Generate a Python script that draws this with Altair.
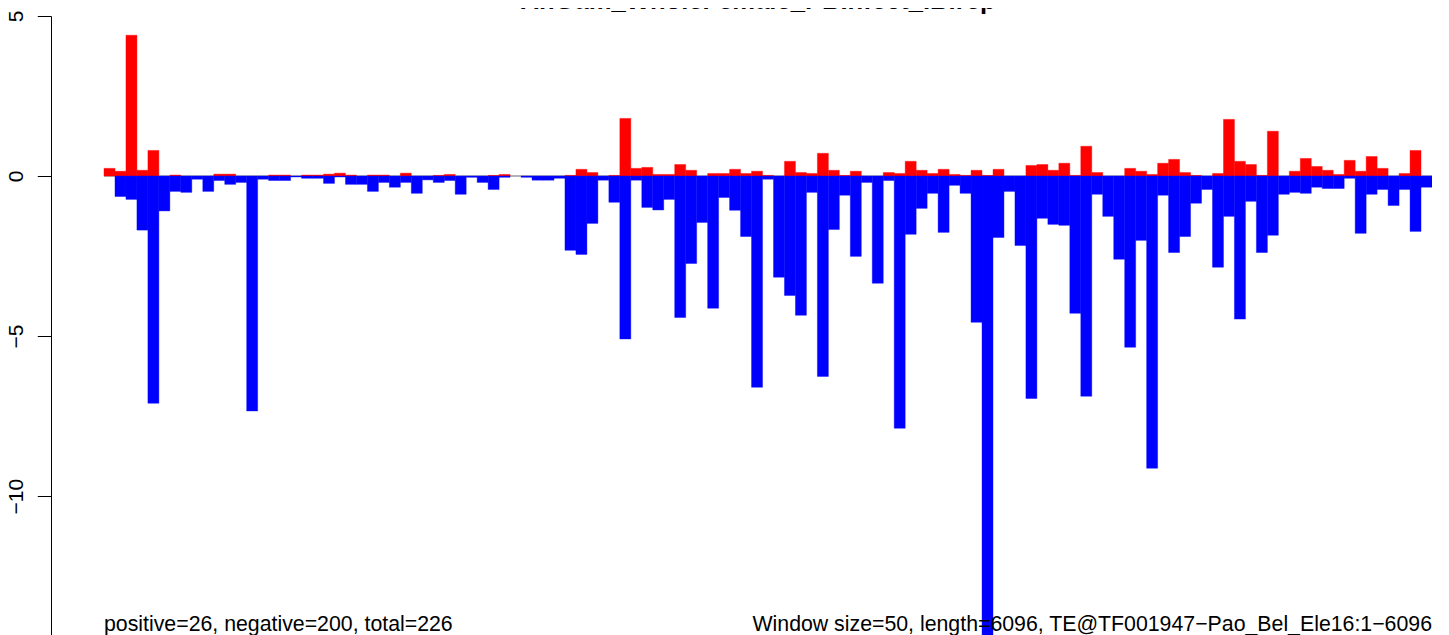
import altair as alt
import pandas as pd

title_text = "AnGam_WholeFemale_PBInfect_IB.rep"
left_note = "positive=26, negative=200, total=226"
right_note = "Window size=50, length=6096, TE@TF001947\u2212Pao_Bel_Ele16:1\u22126096"

# one value per 50-bp window (121 windows)
positive = [
    0.24, 0.15, 4.40, 0.18, 0.80, 0, 0.03, 0, 0, 0,
    0.06, 0.06, 0, 0, 0, 0.03, 0.03, 0, 0.03, 0.03,
    0.06, 0.09, 0.03, 0, 0.03, 0.03, 0, 0.09, 0, 0,
    0.02, 0.05, 0, 0, 0, 0.02, 0.05, 0, 0, 0,
    0, 0, 0.02, 0.21, 0.11, 0, 0.02, 1.80, 0.24, 0.27,
    0.05, 0.05, 0.36, 0.18, 0, 0.08, 0.08, 0.21, 0.08, 0.15,
    0.02, 0, 0.46, 0.11, 0.08, 0.71, 0.18, 0.02, 0.15, 0,
    0, 0.11, 0.08, 0.46, 0.18, 0.08, 0.21, 0.05, 0.02, 0.18,
    0.02, 0.21, 0, 0, 0.33, 0.36, 0.18, 0.40, 0.02, 0.93,
    0.11, 0, 0, 0.24, 0.15, 0.05, 0.40, 0.52, 0.11, 0.02,
    0, 0.08, 1.77, 0.46, 0.36, 0.02, 1.40, 0, 0.15, 0.55,
    0.30, 0.18, 0.05, 0.49, 0.15, 0.61, 0.24, 0, 0.08, 0.80,
    0,
]
negative = [
    0, -0.64, -0.73, -1.69, -7.10, -1.09, -0.48, -0.51, -0.10, -0.48,
    -0.14, -0.26, -0.20, -7.34, -0.10, -0.14, -0.14, -0.03, -0.07, -0.07,
    -0.23, -0.03, -0.26, -0.26, -0.48, -0.20, -0.35, -0.20, -0.54, -0.12,
    -0.20, -0.14, -0.57, -0.04, -0.20, -0.42, -0.04, 0, -0.04, -0.13,
    -0.13, -0.07, -2.32, -2.45, -1.48, -0.13, -0.82, -5.09, -0.13, -0.98,
    -1.06, -0.73, -4.42, -2.73, -1.45, -4.13, -0.67, -1.07, -1.89, -6.60,
    -0.10, -3.16, -3.73, -4.35, -0.51, -6.26, -1.67, -0.60, -2.51, -0.20,
    -3.35, -0.14, -7.88, -1.82, -1.01, -0.54, -1.76, -0.29, -0.54, -4.57,
    -14.60, -1.92, -0.48, -2.17, -6.95, -1.32, -1.51, -1.54, -4.29, -6.88,
    -0.57, -1.26, -2.60, -5.35, -2.01, -9.13, -0.60, -2.39, -1.89, -0.85,
    -0.42, -2.85, -1.26, -4.47, -0.79, -2.39, -1.85, -0.57, -0.51, -0.54,
    -0.35, -0.39, -0.39, -0.07, -1.79, -0.57, -0.42, -0.92, -0.42, -1.73,
    -0.35,
]
y_ticks = [5, 0, -5, -10]

n = len(positive)
rows = []
for i in range(n):
    if positive[i] != 0:
        rows.append({"start": i, "end": i + 1, "value": positive[i], "strand": "pos"})
    if negative[i] != 0:
        rows.append({"start": i, "end": i + 1, "value": negative[i], "strand": "neg"})
bars_df = pd.DataFrame(rows)

FONT = "Liberation Sans"
x_scale = alt.Scale(domain=[-4.83, n], nice=False, zero=False)
y_scale = alt.Scale(domain=[-14.34, 5], nice=False, zero=False)
col_scale = alt.Scale(domain=["pos", "neg"], range=["#FF0000", "#0000FF"])

y_axis = alt.Axis(
    values=y_ticks,
    title=None,
    grid=False,
    domainColor="black",
    domainWidth=1,
    tickColor="black",
    tickWidth=1,
    tickSize=13.7,
    labelAngle=270,
    labelAlign="center",
    labelBaseline="alphabetic",
    labelPadding=15,
    labelFont=FONT,
    labelFontSize=21,
    labelColor="black",
    labelFlush=False,
    labelOverlap=False,
)

zero_line = alt.Chart(pd.DataFrame({"a": [0], "b": [n], "y": [0]})).mark_rule(
    color="#B4B4B4", strokeWidth=2
).encode(
    x=alt.X("a:Q", scale=x_scale, axis=None),
    x2="b:Q",
    y=alt.Y("y:Q", scale=y_scale, axis=y_axis),
)

bars = alt.Chart(bars_df).mark_bar(strokeWidth=0.4, clip=True).encode(
    x=alt.X("start:Q", scale=x_scale, axis=None),
    x2="end:Q",
    y=alt.Y("value:Q", scale=y_scale, axis=y_axis),
    y2=alt.datum(0),
    color=alt.Color("strand:N", scale=col_scale, legend=None),
    stroke=alt.Stroke("strand:N", scale=col_scale, legend=None),
)

title_mark = alt.Chart(pd.DataFrame({"t": [title_text]})).mark_text(
    font=FONT, fontSize=25.6, fontWeight="bold", align="center", baseline="alphabetic", color="black"
).encode(text="t:N", x=alt.value(707), y=alt.value(-7.5))

left_mark = alt.Chart(pd.DataFrame({"t": [left_note]})).mark_text(
    font=FONT, fontSize=21.3, align="left", baseline="alphabetic", color="black"
).encode(text="t:N", x=alt.value(53), y=alt.value(614.7))

right_mark = alt.Chart(pd.DataFrame({"t": [right_note]})).mark_text(
    font=FONT, fontSize=21.3, align="right", baseline="alphabetic", color="black"
).encode(text="t:N", x=alt.value(1381), y=alt.value(614.7))

chart = alt.layer(zero_line, bars, title_mark, left_mark, right_mark).properties(
    width=1381,
    height=619,
    padding={"left": 43, "top": 8, "right": 9, "bottom": 0},
    autosize=alt.AutoSizeParams(type="none"),
    background="white",
).configure_view(stroke=None)

chart.save("out.html", embed_options={"renderer": "svg", "actions": False})
